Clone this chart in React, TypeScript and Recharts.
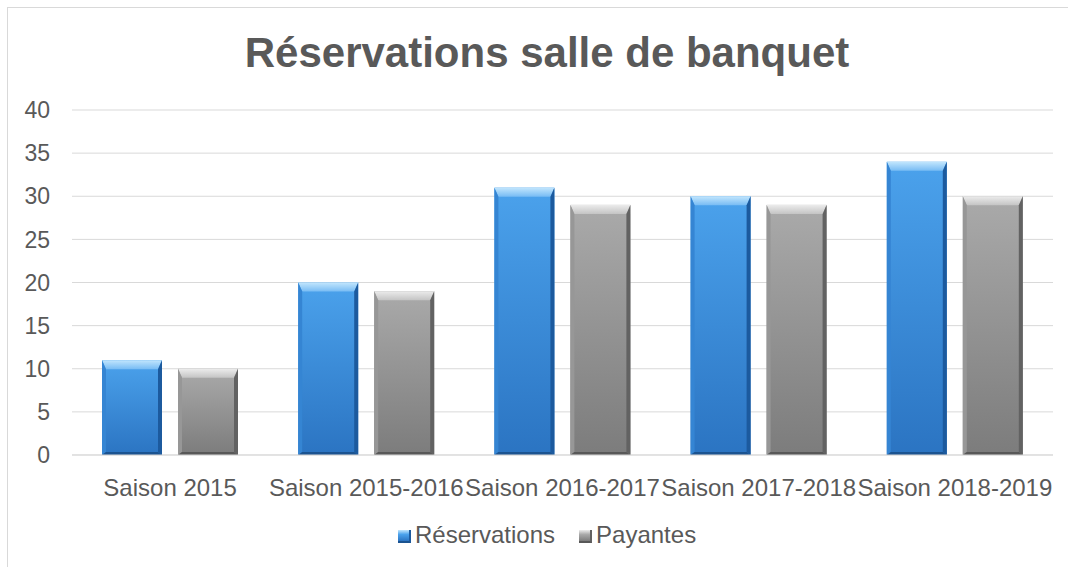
import { BarChart, Bar, XAxis, YAxis, CartesianGrid } from 'recharts'

const CATEGORIES = ['Saison 2015', 'Saison 2015-2016', 'Saison 2016-2017', 'Saison 2017-2018', 'Saison 2018-2019']
const RESERVATIONS = [11, 20, 31, 30, 34]
const PAYANTES = [10, 19, 29, 29, 30]
const Y_TICKS = [0, 5, 10, 15, 20, 25, 30, 35, 40]

const data = CATEGORIES.map((name, i) => ({
  name,
  reservations: RESERVATIONS[i],
  payantes: PAYANTES[i],
}))

const FONT = '"Liberation Sans", Arial, sans-serif'
const TEXT = '#595959'

const PAL = {
  blue: { top0: '#c2e6fd', top1: '#78bcf4', face0: '#4ba2ec', face1: '#2b74c2', left: '#3585d3', right: '#1c5a9e', bottom: '#1b5390' },
  gray: { top0: '#ececec', top1: '#c4c4c4', face0: '#aaaaaa', face1: '#7c7c7c', left: '#979797', right: '#626262', bottom: '#585858' },
}

function makeBevel(key: 'blue' | 'gray') {
  const c = PAL[key]
  return (props: any) => {
    const { x, y, width: w, height: h } = props
    if (!h || h <= 0) return <g />
    const s = 4
    const t = Math.min(9, h / 3)
    return (
      <g>
        <rect x={x} y={y} width={w} height={h} fill={`url(#face-${key})`} />
        <polygon points={`${x},${y} ${x + w},${y} ${x + w - s},${y + t} ${x + s},${y + t}`} fill={`url(#top-${key})`} />
        <polygon points={`${x},${y} ${x + s},${y + t} ${x + s},${y + h - 3} ${x},${y + h}`} fill={c.left} />
        <polygon points={`${x + w},${y} ${x + w},${y + h} ${x + w - s},${y + h - 3} ${x + w - s},${y + t}`} fill={c.right} />
        <polygon points={`${x},${y + h} ${x + s},${y + h - 3} ${x + w - s},${y + h - 3} ${x + w},${y + h}`} fill={c.bottom} />
      </g>
    )
  }
}

const BlueBar = makeBevel('blue')
const GrayBar = makeBevel('gray')

function LegendSwatch({ kind }: { kind: 'blue' | 'gray' }) {
  const c = PAL[kind]
  return (
    <span
      style={{
        display: 'inline-block',
        width: 13,
        height: 13,
        marginRight: 4,
        boxSizing: 'border-box',
        background: `linear-gradient(${c.top0}, ${c.face0} 40%, ${c.face1})`,
        borderRight: `2px solid ${c.right}`,
        borderBottom: `2px solid ${c.bottom}`,
      }}
    />
  )
}

export default function App() {
  return (
    <div
      style={{
        position: 'absolute',
        left: 7,
        top: 7,
        width: 1078,
        height: 580,
        border: '1px solid #d9d9d9',
        background: '#fff',
        fontFamily: FONT,
      }}
    >
      <div
        style={{
          position: 'absolute',
          left: 0,
          top: 24,
          width: 1078,
          textAlign: 'center',
          fontSize: 42,
          lineHeight: '42px',
          fontWeight: 'bold',
          color: TEXT,
        }}
      >
        Réservations salle de banquet
      </div>
      <div style={{ position: 'absolute', left: 0, top: 0 }}>
        <BarChart
          width={1060}
          height={560}
          data={data}
          margin={{ top: 102, right: 15, left: 0, bottom: 0 }}
          barSize={60}
          barGap={16}
        >
          <defs>
            {(['blue', 'gray'] as const).map(k => (
              <g key={k}>
                <linearGradient id={`face-${k}`} x1="0" y1="0" x2="0" y2="1">
                  <stop offset="0%" stopColor={PAL[k].face0} />
                  <stop offset="100%" stopColor={PAL[k].face1} />
                </linearGradient>
                <linearGradient id={`top-${k}`} x1="0" y1="0" x2="0" y2="1">
                  <stop offset="0%" stopColor={PAL[k].top0} />
                  <stop offset="100%" stopColor={PAL[k].top1} />
                </linearGradient>
              </g>
            ))}
          </defs>
          <CartesianGrid vertical={false} stroke="#d9d9d9" />
          <XAxis
            dataKey="name"
            interval={0}
            height={113}
            tickLine={false}
            tickSize={0}
            tickMargin={24}
            stroke="#d9d9d9"
            tick={{ fill: TEXT, fontSize: 24, fontFamily: FONT }}
          />
          <YAxis
            width={64}
            domain={[0, 40]}
            ticks={Y_TICKS}
            axisLine={false}
            tickLine={false}
            tickSize={0}
            tickMargin={22}
            tick={{ fill: TEXT, fontSize: 23, fontFamily: FONT }}
          />
          <Bar dataKey="reservations" name="Réservations" shape={BlueBar} isAnimationActive={false} />
          <Bar dataKey="payantes" name="Payantes" shape={GrayBar} isAnimationActive={false} />
        </BarChart>
      </div>
      <div
        style={{
          position: 'absolute',
          left: 390,
          top: 515,
          display: 'flex',
          alignItems: 'baseline',
          fontSize: 24,
          lineHeight: '24px',
          color: TEXT,
        }}
      >
        <LegendSwatch kind="blue" />
        <span style={{ marginRight: 24 }}>Réservations</span>
        <LegendSwatch kind="gray" />
        <span>Payantes</span>
      </div>
    </div>
  )
}
